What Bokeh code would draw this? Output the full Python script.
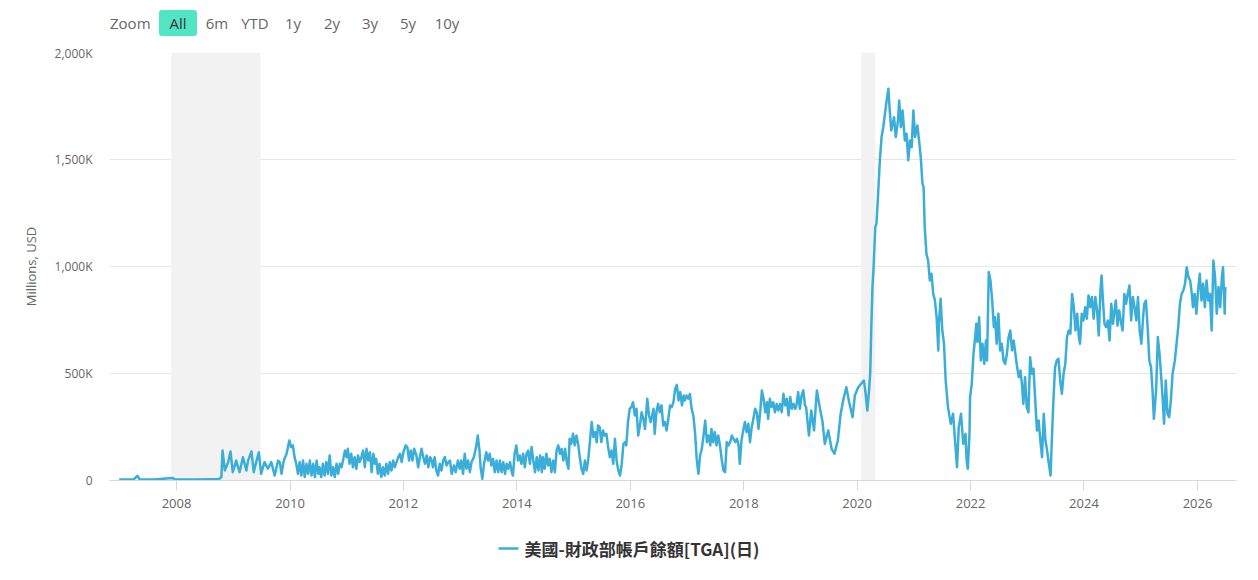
import pandas as pd

from bokeh.core.properties import value
from bokeh.embed import file_html
from bokeh.layouts import column
from bokeh.models import BoxAnnotation, DatetimeTickFormatter, Div, FixedTicker, Range1d
from bokeh.plotting import figure
from bokeh.resources import INLINE

# TGA balance, per period: decimal year / thousands of millions USD ("K")
years_2007_09 = [2006.99, 2007.25, 2007.31, 2007.35, 2007.60, 2007.93, 2007.97, 2008.30, 2008.60, 2008.75,
                 2008.79, 2008.81, 2008.85, 2008.91, 2008.95, 2008.99,
                 2009.05, 2009.11, 2009.17, 2009.23, 2009.26, 2009.32, 2009.36, 2009.41, 2009.45, 2009.49,
                 2009.55, 2009.61, 2009.67, 2009.73, 2009.79,
                 2009.82, 2009.85, 2009.89, 2009.94, 2009.97, 2009.99]
tga_2007_09 = [5, 6, 22, 6, 5, 12, 6, 5, 6, 7,
               16, 140, 47, 86, 136, 39,
               93, 39, 109, 47, 93, 136, 39, 93, 132, 31,
               86, 55, 86, 23, 93,
               86, 31, 93, 125, 164, 187]

years_2010 = [2010.02, 2010.05, 2010.08, 2010.11, 2010.14, 2010.17, 2010.20, 2010.23, 2010.26, 2010.29,
              2010.32, 2010.35, 2010.38, 2010.41, 2010.44, 2010.47, 2010.50, 2010.52, 2010.55, 2010.58,
              2010.61, 2010.64, 2010.67, 2010.70, 2010.73, 2010.76, 2010.79, 2010.82, 2010.85, 2010.88,
              2010.91, 2010.94, 2010.97]
tga_2010 = [156, 164, 109, 78, 31, 86, 23, 93, 16, 78,
            31, 93, 23, 78, 16, 93, 31, 62, 16, 78,
            23, 86, 31, 117, 23, 62, 16, 78, 31, 78,
            62, 101, 140]

years_2011 = [2011.00, 2011.02, 2011.05, 2011.08, 2011.11, 2011.14, 2011.17, 2011.20, 2011.23, 2011.26,
              2011.29, 2011.32, 2011.35, 2011.38, 2011.41, 2011.44, 2011.47, 2011.50, 2011.52, 2011.55,
              2011.58, 2011.61, 2011.64, 2011.67, 2011.70, 2011.73, 2011.76, 2011.79, 2011.82, 2011.85,
              2011.88, 2011.91, 2011.94, 2011.97]
tga_2011 = [109, 148, 78, 125, 62, 109, 55, 117, 86, 109,
            140, 62, 148, 93, 132, 39, 125, 78, 101, 31,
            78, 16, 62, 23, 78, 31, 86, 47, 93, 62,
            86, 109, 125, 86]

years_2012 = [2012.00, 2012.04, 2012.07, 2012.10, 2012.13, 2012.16, 2012.19, 2012.23, 2012.26, 2012.29,
              2012.32, 2012.35, 2012.38, 2012.41, 2012.44, 2012.47, 2012.50, 2012.52, 2012.55, 2012.58,
              2012.61, 2012.64, 2012.67, 2012.70, 2012.73, 2012.76, 2012.79,
              2012.82, 2012.85, 2012.89, 2012.92, 2012.96, 2012.99]
tga_2012 = [132, 164, 156, 93, 140, 93, 148, 117, 62, 109,
            148, 109, 78, 117, 62, 109, 93, 62, 109, 47,
            23, 78, 47, 93, 109, 70, 86,
            93, 31, 70, 39, 93, 55]

years_2013 = [2013.02, 2013.05, 2013.08, 2013.11, 2013.14, 2013.17, 2013.20, 2013.24, 2013.28, 2013.31,
              2013.34, 2013.36, 2013.39, 2013.42, 2013.46, 2013.49, 2013.52, 2013.55, 2013.58, 2013.61,
              2013.64, 2013.67, 2013.70, 2013.73, 2013.76, 2013.79, 2013.82, 2013.85, 2013.88, 2013.91,
              2013.93, 2013.96, 2013.99]
tga_2013 = [93, 31, 125, 55, 93, 39, 86, 109, 156, 210,
            140, 62, 8, 78, 132, 93, 125, 70, 101, 39,
            93, 39, 93, 39, 86, 31, 78, 55, 86, 39,
            23, 125, 164]

years_2014 = [2014.02, 2014.05, 2014.08, 2014.11, 2014.14, 2014.17, 2014.20, 2014.23, 2014.26, 2014.29,
              2014.32, 2014.35, 2014.38, 2014.41, 2014.44, 2014.46, 2014.49, 2014.52, 2014.55, 2014.58,
              2014.61, 2014.64, 2014.67, 2014.70, 2014.73, 2014.76, 2014.79, 2014.82, 2014.85, 2014.88,
              2014.91, 2014.93, 2014.96, 2014.99]
tga_2014 = [93, 117, 78, 125, 62, 125, 140, 78, 156, 93,
            39, 109, 47, 117, 39, 109, 55, 125, 70, 101,
            39, 93, 39, 140, 164, 125, 148, 93, 148, 86,
            55, 195, 171, 218]

years_2015 = [2015.02, 2015.05, 2015.08, 2015.11, 2015.14, 2015.17, 2015.20, 2015.23, 2015.26, 2015.29,
              2015.32, 2015.35, 2015.38, 2015.41, 2015.43, 2015.46, 2015.49, 2015.52, 2015.55, 2015.58,
              2015.61, 2015.64, 2015.67, 2015.70, 2015.73, 2015.76, 2015.79, 2015.82, 2015.85, 2015.88,
              2015.91, 2015.93, 2015.96, 2015.99]
tga_2015 = [164, 210, 171, 109, 55, 31, 93, 47, 101, 187,
            273, 203, 226, 179, 257, 249, 179, 234, 210, 218,
            156, 109, 140, 78, 195, 93, 47, 23, 78, 171,
            179, 164, 273, 335]

years_2016 = [2016.02, 2016.05, 2016.08, 2016.11, 2016.14, 2016.17, 2016.20, 2016.23, 2016.26, 2016.30,
              2016.33, 2016.36, 2016.41, 2016.43, 2016.46, 2016.49, 2016.52, 2016.55, 2016.58, 2016.61,
              2016.64, 2016.67, 2016.70, 2016.73, 2016.76, 2016.79, 2016.82, 2016.85, 2016.88, 2016.91,
              2016.94, 2016.96, 2016.99]
tga_2016 = [343, 366, 304, 335, 210, 257, 319, 288, 241, 382,
            304, 273, 335, 218, 319, 358, 319, 351, 257, 273,
            234, 288, 351, 343, 366, 428, 447, 374, 413, 351,
            397, 374, 397]

years_2017 = [2017.02, 2017.05, 2017.08, 2017.11, 2017.14, 2017.17, 2017.20, 2017.23, 2017.26, 2017.29,
              2017.32, 2017.35, 2017.38, 2017.41, 2017.43, 2017.46, 2017.49, 2017.52, 2017.55, 2017.58,
              2017.61, 2017.64, 2017.67, 2017.70, 2017.73, 2017.76, 2017.79, 2017.82, 2017.85, 2017.88,
              2017.91, 2017.93, 2017.96, 2017.99]
tga_2017 = [382, 405, 335, 304, 226, 101, 31, 117, 148, 210,
            280, 179, 210, 164, 241, 179, 226, 164, 210, 164,
            101, 47, 39, 179, 164, 179, 210, 195, 179, 195,
            164, 78, 187, 234]

years_2018 = [2018.02, 2018.05, 2018.08, 2018.11, 2018.14, 2018.17, 2018.20, 2018.23, 2018.26, 2018.29,
              2018.32, 2018.35, 2018.38, 2018.41, 2018.43, 2018.46, 2018.49, 2018.52, 2018.55, 2018.58,
              2018.61, 2018.64, 2018.67, 2018.70, 2018.73, 2018.76, 2018.79, 2018.82, 2018.85, 2018.88,
              2018.91, 2018.93, 2018.96, 2018.99]
tga_2018 = [273, 226, 265, 179, 249, 288, 335, 319, 241, 319,
            421, 382, 319, 366, 288, 382, 343, 366, 319, 358,
            327, 358, 319, 405, 351, 382, 304, 390, 335, 358,
            335, 351, 413, 335]

years_2019 = [2019.02, 2019.05, 2019.08, 2019.10, 2019.15, 2019.19, 2019.24, 2019.29, 2019.34, 2019.39,
              2019.43, 2019.49, 2019.55, 2019.60, 2019.66, 2019.71, 2019.76, 2019.81, 2019.86, 2019.92,
              2019.96]
tga_2019 = [397, 421, 351, 343, 210, 327, 234, 421, 343, 273,
            171, 234, 148, 125, 187, 312, 382, 436, 366, 296,
            397]

years_2020 = [2020.02, 2020.07, 2020.12, 2020.15, 2020.18, 2020.21, 2020.23, 2020.25, 2020.27, 2020.29,
              2020.32, 2020.34, 2020.37, 2020.40, 2020.43, 2020.46, 2020.49, 2020.52, 2020.55, 2020.57,
              2020.60, 2020.65, 2020.68, 2020.72, 2020.74, 2020.77, 2020.80, 2020.84, 2020.87, 2020.90,
              2020.93, 2020.96, 2020.99]
tga_2020 = [436, 452, 467, 405, 327, 421, 499, 717, 904, 997,
            1184, 1200, 1340, 1496, 1605, 1651, 1714, 1776, 1831, 1745,
            1636, 1698, 1605, 1683, 1776, 1651, 1729, 1589, 1620, 1496,
            1589, 1558, 1729]

years_2021 = [2021.02, 2021.06, 2021.09, 2021.12, 2021.15, 2021.17, 2021.19, 2021.22, 2021.25, 2021.28,
              2021.31, 2021.34, 2021.37, 2021.40, 2021.43, 2021.44, 2021.47, 2021.50, 2021.53, 2021.56,
              2021.60, 2021.65, 2021.69, 2021.72, 2021.76, 2021.79, 2021.83, 2021.87, 2021.91, 2021.93,
              2021.95, 2021.98, 2021.99]
tga_2021 = [1605, 1659, 1589, 1511, 1387, 1371, 1184, 1059, 1028, 935,
            966, 872, 841, 763, 608, 732, 849, 701, 639, 467,
            343, 265, 312, 203, 62, 249, 312, 171, 218, 93,
            55, 218, 390]

years_2022 = [2022.02, 2022.05, 2022.08, 2022.10, 2022.12, 2022.15, 2022.18, 2022.21, 2022.24, 2022.27,
              2022.29, 2022.32, 2022.35, 2022.38, 2022.41, 2022.43, 2022.46, 2022.49, 2022.52, 2022.55,
              2022.58, 2022.61, 2022.64, 2022.67, 2022.70, 2022.73, 2022.76, 2022.79, 2022.82, 2022.85,
              2022.88, 2022.91, 2022.93, 2022.96, 2022.99]
tga_2022 = [452, 592, 670, 732, 647, 763, 561, 639, 545, 654,
            561, 974, 935, 841, 717, 763, 639, 779, 608, 639,
            561, 545, 592, 670, 701, 608, 654, 592, 530, 483,
            514, 436, 358, 483, 343]

years_2023 = [2023.02, 2023.05, 2023.08, 2023.11, 2023.14, 2023.17, 2023.20, 2023.23, 2023.26, 2023.29,
              2023.32, 2023.35, 2023.38, 2023.41, 2023.43, 2023.46, 2023.49, 2023.52, 2023.55, 2023.58,
              2023.61, 2023.64, 2023.67, 2023.70, 2023.73, 2023.76, 2023.79, 2023.82, 2023.85, 2023.88,
              2023.91, 2023.93, 2023.96, 2023.99]
tga_2023 = [319, 576, 499, 522, 374, 234, 280, 187, 109, 312,
            187, 140, 78, 23, 171, 374, 530, 561, 569, 467,
            405, 499, 545, 670, 701, 686, 872, 810, 701, 779,
            670, 639, 779, 748]

years_2024 = [2024.02, 2024.05, 2024.08, 2024.11, 2024.14, 2024.17, 2024.20, 2024.23, 2024.26, 2024.29,
              2024.31, 2024.33, 2024.36, 2024.39, 2024.42, 2024.45, 2024.48, 2024.51, 2024.53, 2024.56,
              2024.59, 2024.62, 2024.65, 2024.68, 2024.71, 2024.74, 2024.77, 2024.80, 2024.83, 2024.86,
              2024.89, 2024.92, 2024.95, 2024.98]
tga_2024 = [810, 756, 865, 810, 857, 756, 857, 795, 678, 888,
            958, 857, 732, 717, 748, 654, 826, 732, 779, 841,
            724, 795, 740, 701, 872, 826, 872, 911, 748, 857,
            810, 748, 857, 701]

years_2025 = [2025.01, 2025.04, 2025.06, 2025.09, 2025.12, 2025.15, 2025.18, 2025.21, 2025.23, 2025.27,
              2025.30, 2025.33, 2025.36, 2025.38, 2025.41, 2025.44, 2025.47, 2025.50, 2025.53, 2025.56,
              2025.60, 2025.63, 2025.66, 2025.69, 2025.72, 2025.75, 2025.78, 2025.81, 2025.84, 2025.87,
              2025.90, 2025.92, 2025.95, 2025.98]
tga_2025 = [639, 763, 826, 841, 717, 561, 530, 405, 288, 421,
            670, 592, 483, 405, 265, 467, 312, 296, 374, 499,
            561, 639, 717, 826, 872, 888, 919, 997, 950, 935,
            872, 810, 872, 779]

years_2026 = [2026.01, 2026.04, 2026.07, 2026.10, 2026.13, 2026.16, 2026.19, 2026.22, 2026.25, 2026.28,
              2026.31, 2026.34, 2026.37, 2026.40, 2026.43, 2026.45, 2026.48, 2026.49]
tga_2026 = [888, 966, 841, 919, 810, 935, 841, 872, 701, 1028,
            950, 779, 904, 810, 950, 997, 779, 904]

# recession periods (shaded)
recession_start = [2007.91, 2020.07]
recession_end = [2009.48, 2020.32]

tick_years = [2008, 2010, 2012, 2014, 2016, 2018, 2020, 2022, 2024, 2026]
y_ticks = [0, 500, 1000, 1500, 2000]
y_tick_labels = ["0", "500K", "1,000K", "1,500K", "2,000K"]
zoom_buttons = ["All", "6m", "YTD", "1y", "2y", "3y", "5y", "10y"]
series_name = "美國-財政部帳戶餘額[TGA](日)"

years = (years_2007_09 + years_2010 + years_2011 + years_2012 + years_2013 + years_2014 + years_2015
         + years_2016 + years_2017 + years_2018 + years_2019 + years_2020 + years_2021 + years_2022
         + years_2023 + years_2024 + years_2025 + years_2026)
tga_k = (tga_2007_09 + tga_2010 + tga_2011 + tga_2012 + tga_2013 + tga_2014 + tga_2015
         + tga_2016 + tga_2017 + tga_2018 + tga_2019 + tga_2020 + tga_2021 + tga_2022
         + tga_2023 + tga_2024 + tga_2025 + tga_2026)


def to_date(y: float) -> pd.Timestamp:
    """decimal year -> timestamp"""
    yr = int(y)
    start = pd.Timestamp(year=yr, month=1, day=1)
    end = pd.Timestamp(year=yr + 1, month=1, day=1)
    return start + (end - start) * (y - yr)


def to_ms(y: float) -> float:
    return to_date(y).value / 1e6


LINE_COLOR = "#3AAED8"
TEXT_COLOR = "#666666"
FONT = "Open Sans"
WIDTH = 1250

# range selector row, as plain html above the chart
button_x = [178, 217, 255, 293, 332, 370, 408, 447]
spans = ['<span style="position:absolute;left:110px;top:10px;line-height:26px">Zoom</span>']
for name, bx in zip(zoom_buttons, button_x):
    if name == "All":
        spans.append(f'<span style="position:absolute;left:{bx - 19}px;top:10px;width:38px;line-height:26px;'
                     f'text-align:center;background:#52E5C3;border-radius:3px;color:#333333">{name}</span>')
    else:
        spans.append(f'<span style="position:absolute;left:{bx - 20}px;top:10px;width:40px;line-height:26px;'
                     f'text-align:center">{name}</span>')
buttons = Div(text=f'<div style="position:relative;width:600px;height:44px;font-family:\'{FONT}\';'
                   f'font-size:15px;color:{TEXT_COLOR}">' + "".join(spans) + '</div>',
              width=WIDTH, height=44, margin=0)

p = figure(width=WIDTH, height=476, x_axis_type="datetime", output_backend="svg", toolbar_location=None,
           x_range=Range1d(to_date(2006.818), to_date(2026.688)), y_range=Range1d(0, 2000),
           min_border_left=109, min_border_right=14, min_border_top=8, min_border_bottom=40, margin=0)
p.outline_line_color = None
p.background_fill_color = "white"

for s, e in zip(recession_start, recession_end):
    p.add_layout(BoxAnnotation(left=to_ms(s), right=to_ms(e), fill_color="#f2f2f2", fill_alpha=1.0,
                               line_color=None, level="underlay"))

p.line([to_date(y) for y in years], tga_k, line_color=LINE_COLOR, line_width=2.5, line_join="round")

# x axis
p.xaxis.ticker = FixedTicker(ticks=[to_ms(y) for y in tick_years])
p.xaxis.formatter = DatetimeTickFormatter(years="%Y", months="%Y", days="%Y", hours="%Y")
p.xaxis.axis_line_color = "#d8d8d8"
p.xaxis.major_tick_line_color = "#d8d8d8"
p.xaxis.major_tick_out = 10
p.xaxis.major_tick_in = 0
p.xaxis.minor_tick_line_color = None
p.xaxis.major_label_standoff = 8
p.xaxis.major_label_text_font = FONT
p.xaxis.major_label_text_font_size = "13px"
p.xaxis.major_label_text_color = TEXT_COLOR
p.xgrid.grid_line_color = None

# y axis
p.yaxis.ticker = FixedTicker(ticks=y_ticks)
p.yaxis.major_label_overrides = dict(zip(y_ticks, y_tick_labels))
p.yaxis.axis_line_color = None
p.yaxis.major_tick_line_color = None
p.yaxis.major_tick_out = 0
p.yaxis.minor_tick_line_color = None
p.yaxis.major_label_standoff = 17
p.yaxis.major_label_text_font = FONT
p.yaxis.major_label_text_font_size = "12px"
p.yaxis.major_label_text_color = TEXT_COLOR
p.yaxis.axis_label = "Millions, USD"
p.yaxis.axis_label_text_font = FONT
p.yaxis.axis_label_text_font_size = "13px"
p.yaxis.axis_label_text_font_style = "normal"
p.yaxis.axis_label_text_color = TEXT_COLOR
p.yaxis.axis_label_standoff = 12
p.ygrid.grid_line_color = "#e6e6e6"

# legend strip under the chart; its frame lines up with the chart, ranges are page pixels
leg = figure(width=WIDTH, height=56, output_backend="svg", toolbar_location=None,
             x_range=Range1d(109, 1236), y_range=Range1d(0, 56), x_axis_location=None, y_axis_location=None,
             min_border_left=109, min_border_right=14, min_border_top=0, min_border_bottom=0, margin=0)
leg.outline_line_color = None
leg.grid.grid_line_color = None
leg.line([498, 518], [28, 28], line_color=LINE_COLOR, line_width=2.5)
leg.text([524], [28], text=[series_name], text_font=value("Noto Sans CJK TC"), text_font_size="17px",
         text_font_style="bold", text_color="#333333", text_baseline="middle")

open("out.html", "w").write(file_html(column(buttons, p, leg, spacing=0), INLINE))
